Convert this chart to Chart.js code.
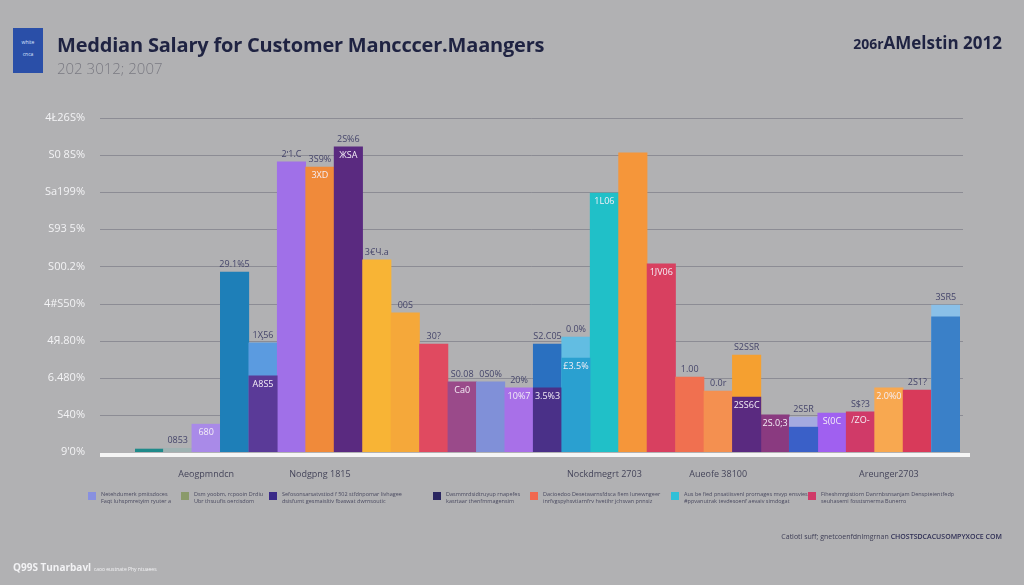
<!DOCTYPE html>
<html>
<head>
<meta charset="utf-8">
<script src="https://cdn.jsdelivr.net/npm/chart.js@4/dist/chart.umd.min.js"></script>
<style>
  html, body { margin: 0; padding: 0; background: #b1b1b3; }
  #wrap { position: relative; width: 1024px; height: 585px; overflow: hidden; font-family: "Open Sans", sans-serif; }
  #myChart { position: absolute; left: 0; top: 0; }
  .logo { position: absolute; left: 13px; top: 28px; width: 30px; height: 45px; background: #2a4fa8; color: #dfe6ff; font-size: 5px; text-align: center; line-height: 12px; padding-top: 8px; box-sizing: border-box; }
  .title { position: absolute; left: 57px; top: 31px; font-size: 20px; font-weight: 700; color: #1f2342; letter-spacing: -0.2px; }
  .subtitle { position: absolute; left: 57px; top: 58px; font-size: 15px; font-weight: 300; color: #7a7a82; }
  .corner { position: absolute; right: 22px; top: 31px; font-size: 17px; font-weight: 700; color: #1f2342; }
  .legend { position: absolute; top: 491px; left: 0; width: 1024px; height: 20px; }
  .item { position: absolute; top: 0; display: flex; align-items: flex-start; }
  .sw { width: 8px; height: 8px; margin-right: 5px; margin-top: 1px; }
  .txt { font-size: 5.5px; line-height: 7px; color: #4a4a60; white-space: nowrap; }
  .source { position: absolute; right: 22px; top: 532px; font-size: 7px; color: #3d3d55; }
  .source b { font-weight: 600; color: #2f2f55; }
  .brand { position: absolute; left: 13px; top: 560px; font-size: 10px; color: #f2f2f4; font-weight: 700; }
  .brand span { font-size: 5px; font-weight: 400; }
</style>
</head>
<body>
<div id="wrap">
  <canvas id="myChart" width="1024" height="585"></canvas>
  <div class="logo">white<br>cnca</div>
  <div class="title">Meddian Salary for Customer Mancccer.Maangers</div>
  <div class="subtitle">202 3012; 2007</div>
  <div class="corner"><span style="font-size:14px">206r</span>AMelstin 2012</div>
  <div class="legend" id="legend"></div>
  <div class="source">Catlotl suff; gnetcoenfdnlmgrnan <b>CHOSTSDCACUSOMPYXOCE COM</b></div>
  <div class="brand">Q99S Tunarbavl <span>caoo eustnate Phy ntuaees</span></div>
</div>
<script>
// x categories (only a few carry a label)
const categories = ['', '', 'Aeogpmndcn', '', '', '', 'Nodgpng 1815', '', '', '',
                    '', '', '', '', '', '', 'Nockdmegrt 2703', '', '', '',
                    'Aueofe 38100', '', '', '', '', '', 'Areunger2703', '', ''];

// y tick labels, bottom to top
const tickLabels = ["9'0%", 'S40%', '6.480%', '4Я.80%', '4#S50%', 'S00.2%', 'S93 5%', 'Sa199%', 'S0 8S%', '4Ł26S%'];

// back bars (full height) and shorter bars drawn in front of them
const backValues = [0.08, 0.1, 0.75, 4.85, 2.94, 7.82, 7.68, 8.22, 5.18, 3.75,
                    2.91, 1.89, 1.89, 1.73, 2.91, 3.10, 6.98, 8.06, 5.07, 2.02,
                    1.64, 2.61, 1.00, 0.94, 1.05, 1.08, 1.73, 1.67, 3.96];
const frontValues = [null, null, null, null, 2.05, null, null, null, null, null,
                     null, null, null, null, 1.73, 2.53, null, null, null, null,
                     null, 1.48, null, 0.67, null, null, null, null, 3.64];

const backColors = ['#1f8a8a', '#9fb2b2', '#a98ae8', '#1e7fb8', '#5b9be0', '#a070e8', '#f08a3a', '#5a2a80', '#f8b435', '#f5a83a',
                    '#e04a60', '#9a4a8a', '#8090d8', '#a870e8', '#2a70c0', '#62bde2', '#20c0c8', '#f5963a', '#d84060', '#f07050',
                    '#f49050', '#f5a030', '#8a3a80', '#a4aae0', '#a060f0', '#d03a68', '#f8a850', '#d83a5a', '#8ac0e8'];
const frontColors = [null, null, null, null, '#5a3a98', null, null, null, null, null,
                     null, null, null, null, '#4a3088', '#2aa0d0', null, null, null, null,
                     null, '#5a2a80', null, '#3a60c8', null, null, null, null, '#3a80c8'];

// value labels above bars and inside the top of bars
const topLabels = ['', '0853', '', '29.1%5', '1Ӽ56', '2ʹ1.C', '3S9%', '2S%6', '3€Ч.a', '00S',
                   '30?', 'S0.08', '0S0%', '20%', 'S2.C05', '0.0%', '', '', '', '1.00',
                   '0.0r', 'S2SSR', '', '2S5R', '', 'S$?3', '', '2S1?', '3SR5'];
const innerLabels = ['', '', '680', '', 'A8S5', '', '3XD', 'ЖSA', '', '',
                     '', 'Ca0', '', '10%7', '3.5%3', '£3.5%', '1L06', '', '1JV06', '',
                     '', '2SS6C', '2S.0;3', '', 'S(0C', '/ZO-', '2.0%0', '', ''];

// legend entries
const legendColors = ['#8890e0', '#8a9a6a', '#3a2a88', '#2a2660', '#f06850', '#30c0d8', '#d03a68'];
const legendText = [
  ['Netehdumerk pmitsdoces', 'Faqt luhspmretyim ryuter a'],
  ['Dsm yoobm, rcpooin Drdiu', 'Ubr thsuufis oercisdom'],
  ['Sefosonsarsatvstiod f 502 stfdnpomar livhagee', 'dsisfumt gesmaisltiv fbaswat dwrnsoutic'],
  ['Dasmmrdsidtruyup rnapefes', 'kasrtaar thenfmmagensim'],
  ['Dacioedoo Desetwarnsfdsca fiem lunewngeer', 'inrfvgspyhsvtiarnfrv hvetihr jchsvan pnnsiz'],
  ['Aus be fied pnsatiisvenl prornages mvyp ensvies', '#ppvanutrak tevdesoenf aevaiv simdogat'],
  ['Fiheshmrgistiorn Danrnbsnsanjam Denspteientfedp', 'seuhasemi fosstsmerma Bunerro']
];
const legendLeft = [88, 181, 269, 433, 530, 671, 808];

const legendBox = document.getElementById('legend');
legendColors.forEach((c, i) => {
    const it = document.createElement('div');
    it.className = 'item';
    it.style.left = legendLeft[i] + 'px';
    it.innerHTML = '<div class="sw" style="background:' + c + '"></div><div class="txt">' +
        legendText[i][0] + '<br>' + legendText[i][1] + '</div>';
    legendBox.appendChild(it);
});

const extras = {
    id: 'extras',
    beforeDatasetsDraw(chart) {
        const ctx = chart.ctx, ys = chart.scales.y;
        ctx.save();
        // grid lines run a bit wider than the bars
        ctx.strokeStyle = 'rgba(110,110,122,0.55)';
        ctx.lineWidth = 1;
        ys.ticks.forEach((t) => {
            if (t.value === 0) return;
            const py = Math.round(ys.getPixelForValue(t.value)) + 0.5;
            ctx.beginPath();
            ctx.moveTo(100, py);
            ctx.lineTo(963, py);
            ctx.stroke();
        });
        ctx.fillStyle = '#f5f5f5';
        ctx.fillRect(100, ys.getPixelForValue(0) + 1, 870, 4);
        ctx.restore();
    },
    afterDatasetsDraw(chart) {
        const ctx = chart.ctx;
        const back = chart.getDatasetMeta(1).data;
        const front = chart.getDatasetMeta(0).data;
        ctx.save();
        ctx.font = '9px "Open Sans", sans-serif';
        ctx.textAlign = 'center';
        back.forEach((bar, i) => {
            if (topLabels[i]) {
                ctx.fillStyle = '#45456a';
                ctx.textBaseline = 'bottom';
                ctx.fillText(topLabels[i], bar.x, bar.y - 3);
            }
            if (innerLabels[i]) {
                const top = frontValues[i] != null ? front[i].y : bar.y;
                ctx.fillStyle = '#f4eef6';
                ctx.textBaseline = 'top';
                ctx.fillText(innerLabels[i], bar.x, top + 4);
            }
        });
        ctx.restore();
    }
};

new Chart(document.getElementById('myChart'), {
    type: 'bar',
    data: {
        labels: categories,
        datasets: [
            { data: frontValues, backgroundColor: frontColors, grouped: false, order: 0,
              barPercentage: 1, categoryPercentage: 1, borderWidth: 0 },
            { data: backValues, backgroundColor: backColors, grouped: false, order: 1,
              barPercentage: 1, categoryPercentage: 1, borderWidth: 0 }
        ]
    },
    options: {
        responsive: false,
        animation: false,
        layout: { padding: { top: 118, right: 64, bottom: 103, left: 0 } },
        plugins: { legend: { display: false }, tooltip: { enabled: false } },
        scales: {
            x: {
                grid: { display: false },
                border: { display: false },
                afterFit: (axis) => { axis.height = 30; },
                ticks: { autoSkip: false, maxRotation: 0, padding: 9, color: '#45455a',
                         font: { size: 9, family: '"Open Sans", sans-serif' } }
            },
            y: {
                min: 0, max: 9,
                afterFit: (axis) => { axis.width = 135; },
                border: { display: false },
                grid: { display: false },
                ticks: { stepSize: 1, padding: 42, color: '#f3f3f5',
                         font: { size: 11, family: '"Open Sans", sans-serif' },
                         callback: (v) => tickLabels[v] }
            }
        }
    },
    plugins: [extras]
});
</script>
</body>
</html>
